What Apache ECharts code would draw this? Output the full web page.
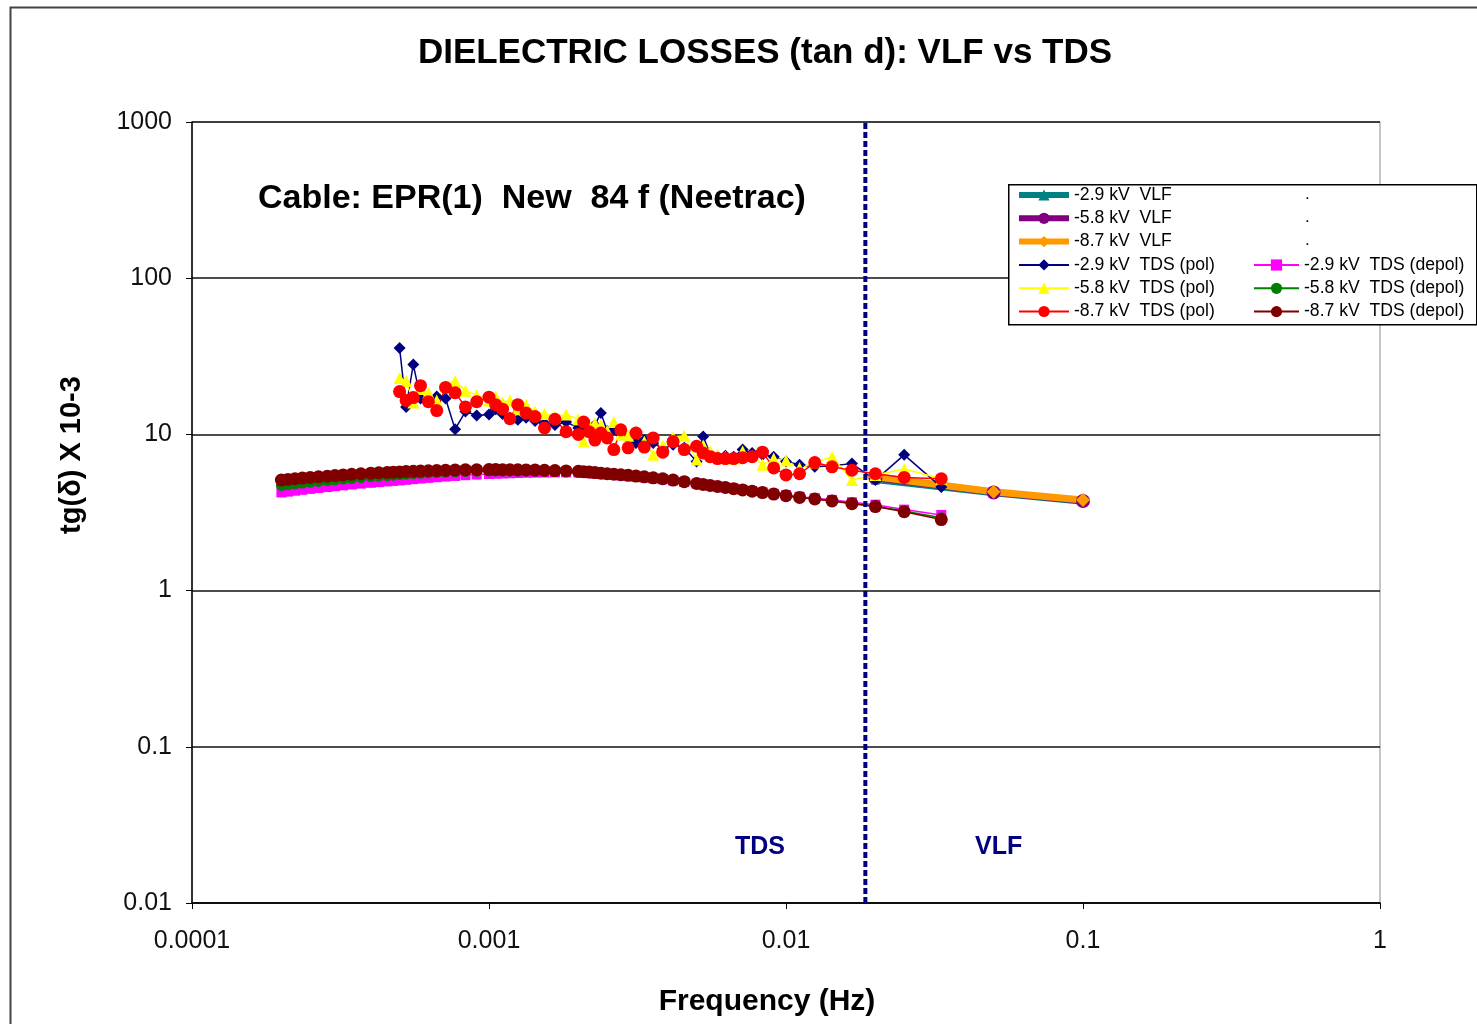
<!DOCTYPE html>
<html>
<head>
<meta charset="utf-8">
<title>Dielectric losses VLF vs TDS</title>
<script src="https://cdn.jsdelivr.net/npm/echarts@6/dist/echarts.min.js"></script>
<style>
  html, body { margin: 0; padding: 0; background: #fff; }
  #chart { width: 1477px; height: 1024px; }
</style>
</head>
<body>
<div id="chart"></div>
<script>
// frequencies (Hz)
var vlfFreq = [0.02, 0.05, 0.1];
var polFreq = [
  0.0005, 0.000526, 0.000556, 0.000588, 0.000625, 0.000667, 0.000714, 0.000769, 0.000833, 0.000909,
  0.001, 0.001053, 0.001111, 0.001176, 0.00125, 0.001333, 0.001429, 0.001538, 0.001667, 0.001818,
  0.002, 0.002083, 0.002174, 0.002273, 0.002381, 0.0025, 0.002632, 0.002778, 0.002941, 0.003125,
  0.003333, 0.003571, 0.003846, 0.004167, 0.004545, 0.005, 0.005263, 0.005556, 0.005882, 0.00625,
  0.006667, 0.007143, 0.007692, 0.008333, 0.009091, 0.01, 0.01111, 0.0125, 0.01429, 0.01667,
  0.02, 0.025, 0.03333
];
var depolFreq = [
  0.0002, 0.0002105, 0.0002222, 0.0002353, 0.00025, 0.0002667, 0.0002857, 0.000303, 0.0003226, 0.0003448,
  0.0003704, 0.0004, 0.0004255, 0.0004545, 0.0004762,
  0.0005, 0.000526, 0.000556, 0.000588, 0.000625, 0.000667, 0.000714, 0.000769, 0.000833, 0.000909,
  0.001, 0.001053, 0.001111, 0.001176, 0.00125, 0.001333, 0.001429, 0.001538, 0.001667, 0.001818,
  0.002, 0.002083, 0.002174, 0.002273, 0.002381, 0.0025, 0.002632, 0.002778, 0.002941, 0.003125,
  0.003333, 0.003571, 0.003846, 0.004167, 0.004545, 0.005, 0.005263, 0.005556, 0.005882, 0.00625,
  0.006667, 0.007143, 0.007692, 0.008333, 0.009091, 0.01, 0.01111, 0.0125, 0.01429, 0.01667,
  0.02, 0.025, 0.03333
];

// tg(delta) x 10-3
var vlf29 = [5.1, 4.2, 3.7];
var vlf58 = [5.25, 4.25, 3.75];
var vlf87 = [5.35, 4.3, 3.8];

var pol29 = [
  35.7, 15, 28, 17, 16.5, 17.5, 17, 10.8, 14, 13.2,
  13.4, 14.5, 13.5, 12.8, 12.4, 12.8, 12.2, 11.8, 11.5, 12,
  11, 11.2, 10.8, 11.5, 13.7, 10.5, 10.8, 10, 9.6, 8.8,
  9.2, 8.8, 8.1, 8.6, 8.2, 6.7, 9.7, 7.5, 7.2, 7.3,
  7.2, 8.0, 7.6, 7.4, 7.2, 6.7, 6.4, 6.2, 6.3, 6.5,
  5.1, 7.4, 4.6
];
var pol58 = [
  23, 22, 16, 19.5, 18.5, 16.5, 20.5, 22, 19, 17.9,
  16.5, 17.5, 16, 16.5, 14.5, 15.5, 14, 13.5, 13, 13.4,
  12.5, 9, 11.5, 11.8, 11.5, 10.5, 12, 10, 9.8, 10.5,
  9, 7.4, 8.5, 9.6, 9.8, 6.9, 8.5, 7.8, 7.4, 7.2,
  7.0, 7.8, 7.3, 6.4, 7.0, 6.8, 6.1, 6.6, 7.2, 5.1,
  5.5, 6.0, 5.2
];
var pol87 = [
  18.8, 16.5, 17.2, 20.5, 16.2, 14.2, 20, 18.5, 15, 16.2,
  17.3, 15.5, 14.5, 12.6, 15.5, 13.7, 13, 11, 12.5, 10.4,
  10, 12, 10.4, 9.2, 10.2, 9.5, 8, 10.7, 8.2, 10.2,
  8.3, 9.5, 7.7, 9.0, 8.0, 8.4, 7.6, 7.2, 7.0, 7.0,
  7.0, 7.1, 7.2, 7.7, 6.1, 5.5, 5.6, 6.6, 6.2, 5.9,
  5.6, 5.3, 5.2
];

var depol29 = [
  4.25, 4.3, 4.36, 4.42, 4.48, 4.54, 4.6, 4.66, 4.72, 4.78,
  4.84, 4.9, 4.95, 5.0, 5.04,
  5.08, 5.12, 5.17, 5.22, 5.27, 5.32, 5.37, 5.42, 5.48, 5.53,
  5.58, 5.6, 5.62, 5.64, 5.66, 5.68, 5.69, 5.7, 5.71, 5.71,
  5.7, 5.68, 5.65, 5.62, 5.58, 5.54, 5.5, 5.46, 5.41, 5.36,
  5.3, 5.23, 5.16, 5.07, 4.96, 4.84, 4.78, 4.71, 4.64, 4.57,
  4.5, 4.42, 4.34, 4.26, 4.17, 4.08, 3.99, 3.9, 3.81, 3.68,
  3.55, 3.3, 3.05
];
var depol58 = [
  4.7, 4.76, 4.82, 4.88, 4.94, 5.0, 5.06, 5.12, 5.18, 5.24,
  5.3, 5.36, 5.4, 5.44, 5.48,
  5.52, 5.56, 5.6, 5.63, 5.67, 5.7, 5.73, 5.76, 5.79, 5.81,
  5.83, 5.84, 5.84, 5.84, 5.84, 5.84, 5.83, 5.82, 5.8, 5.78,
  5.75, 5.72, 5.69, 5.66, 5.62, 5.58, 5.54, 5.5, 5.45, 5.39,
  5.33, 5.26, 5.19, 5.09, 4.97, 4.84, 4.77, 4.7, 4.63, 4.56,
  4.48, 4.4, 4.32, 4.23, 4.14, 4.04, 3.95, 3.86, 3.76, 3.62,
  3.47, 3.23, 2.93
];
var depol87 = [
  5.1, 5.15, 5.2, 5.25, 5.3, 5.35, 5.4, 5.45, 5.5, 5.55,
  5.6, 5.65, 5.68, 5.71, 5.73,
  5.75, 5.78, 5.8, 5.82, 5.85, 5.87, 5.89, 5.91, 5.93, 5.94,
  5.95, 5.95, 5.94, 5.94, 5.93, 5.92, 5.91, 5.89, 5.87, 5.84,
  5.8, 5.77, 5.74, 5.7, 5.65, 5.6, 5.56, 5.52, 5.47, 5.41,
  5.35, 5.27, 5.2, 5.1, 4.98, 4.85, 4.78, 4.71, 4.64, 4.57,
  4.49, 4.41, 4.33, 4.24, 4.15, 4.05, 3.95, 3.86, 3.75, 3.6,
  3.45, 3.2, 2.85
];

// where the TDS / VLF split is drawn (freq), spanning the whole y range
var splitFreq = 0.0185;
var splitSpan = [0.01, 1000];

function pairs(xs, ys) {
  var out = [];
  for (var i = 0; i < xs.length; i++) out.push([xs[i], ys[i]]);
  return out;
}

function fmt(v) {
  return String(+v.toPrecision(3));
}

var font = 'Liberation Sans, Arial, sans-serif';
var legendText = { fontSize: 17.6, color: '#000', fontFamily: font, lineHeight: 20 };
var chart = echarts.init(document.getElementById('chart'));

var option = {
  animation: false,
  backgroundColor: '#fff',
  textStyle: { fontFamily: font },
  title: {
    text: 'DIELECTRIC LOSSES (tan d): VLF vs TDS',
    left: 760, top: 31, textAlign: 'center',
    textStyle: { fontSize: 35, fontWeight: 'bold', color: '#000', fontFamily: font }
  },
  grid: {
    left: 192, top: 122, width: 1188, height: 781,
    show: true, borderColor: '#8a8a8a', borderWidth: 1
  },
  legend: [{
    // left column
    orient: 'vertical', left: 1016, top: 185,
    itemWidth: 50, itemHeight: 14, itemGap: 3.3, padding: 0,
    textStyle: legendText,
    z: 12,
    data: [
      { name: '-2.9 kV  VLF', lineStyle: { width: 6 } },
      { name: '-5.8 kV  VLF', lineStyle: { width: 6 } },
      { name: '-8.7 kV  VLF', lineStyle: { width: 6 } },
      '-2.9 kV  TDS (pol)', '-5.8 kV  TDS (pol)', '-8.7 kV  TDS (pol)'
    ]
  }, {
    // right column
    orient: 'vertical', left: 1253, top: 255,
    itemWidth: 45, itemHeight: 14, itemGap: 3.3, padding: 0,
    textStyle: legendText,
    z: 12,
    data: ['-2.9 kV  TDS (depol)', '-5.8 kV  TDS (depol)', '-8.7 kV  TDS (depol)']
  }],
  xAxis: {
    type: 'log', logBase: 10, min: 0.0001, max: 1,
    name: 'Frequency (Hz)', nameLocation: 'middle', nameGap: 84,
    nameTextStyle: { fontSize: 30, fontWeight: 'bold', color: '#000', fontFamily: font, padding: [0, 38, 0, 0] },
    axisLine: { lineStyle: { color: '#000', width: 1.5 } },
    axisTick: { show: true, length: 6, lineStyle: { color: '#000' } },
    minorTick: { show: false },
    axisLabel: { fontSize: 25, color: '#111', margin: 26, formatter: fmt },
    splitLine: { show: false }
  },
  yAxis: {
    type: 'log', logBase: 10, min: 0.01, max: 1000,
    axisLine: { show: true, lineStyle: { color: '#000', width: 1.5 } },
    axisTick: { show: true, length: 6, lineStyle: { color: '#000' } },
    axisLabel: { fontSize: 25, color: '#111', margin: 20, formatter: fmt },
    splitLine: { show: true, lineStyle: { color: '#111', width: 1.5 } }
  },
  graphic: [
    // outer frame of the chart area
    { type: 'rect', left: 8, top: 5, z: -1,
      shape: { width: 1490, height: 1040 },
      style: { fill: 'none', stroke: '#444', lineWidth: 2 } },
    // y axis title, sits a bit above the plot centre like the original
    { type: 'text', x: 72, y: 455, rotation: Math.PI / 2, z: 11,
      style: { text: 'tg(δ) X 10-3', fontSize: 29, fontWeight: 'bold', fill: '#000', fontFamily: font,
               align: 'center', verticalAlign: 'middle' } },
    // legend box
    { type: 'rect', left: 1008, top: 184, z: 10,
      shape: { width: 468, height: 140 },
      style: { fill: '#fff', stroke: '#000', lineWidth: 1.5 } },
    { type: 'text', left: 1305, top: 186, z: 11, style: { text: '.', fontSize: 17, fill: '#000', fontFamily: font } },
    { type: 'text', left: 1305, top: 209, z: 11, style: { text: '.', fontSize: 17, fill: '#000', fontFamily: font } },
    { type: 'text', left: 1305, top: 232, z: 11, style: { text: '.', fontSize: 17, fill: '#000', fontFamily: font } },
    // annotations
    { type: 'text', left: 258, top: 182, z: 11,
      style: { text: 'Cable: EPR(1)  New  84 f (Neetrac)', fontSize: 34, fontWeight: 'bold', fill: '#000', fontFamily: font } },
    { type: 'text', left: 735, top: 835, z: 11,
      style: { text: 'TDS', fontSize: 25, fontWeight: 'bold', fill: '#000080', fontFamily: font } },
    { type: 'text', left: 975, top: 835, z: 11,
      style: { text: 'VLF', fontSize: 25, fontWeight: 'bold', fill: '#000080', fontFamily: font } }
  ],
  series: [
    {
      name: '-2.9 kV  VLF', type: 'line', data: pairs(vlfFreq, vlf29),
      symbol: 'triangle', symbolSize: 9,
      itemStyle: { color: '#008080' }, lineStyle: { color: '#008080', width: 6 }
    },
    {
      name: '-5.8 kV  VLF', type: 'line', data: pairs(vlfFreq, vlf58),
      symbol: 'circle', symbolSize: 14,
      itemStyle: { color: '#800080' }, lineStyle: { color: '#800080', width: 6 }
    },
    {
      name: '-8.7 kV  VLF', type: 'line', data: pairs(vlfFreq, vlf87),
      symbol: 'diamond', symbolSize: 14,
      itemStyle: { color: '#FF9900' }, lineStyle: { color: '#FF9900', width: 7 }
    },
    {
      name: '-2.9 kV  TDS (pol)', type: 'line', data: pairs(polFreq, pol29),
      symbol: 'diamond', symbolSize: 12, showAllSymbol: true,
      itemStyle: { color: '#000080' }, lineStyle: { color: '#000080', width: 1.5 }
    },
    {
      name: '-5.8 kV  TDS (pol)', type: 'line', data: pairs(polFreq, pol58),
      symbol: 'triangle', symbolSize: 12, showAllSymbol: true,
      itemStyle: { color: '#FFFF00' }, lineStyle: { color: '#FFFF00', width: 1.5 }
    },
    {
      name: '-8.7 kV  TDS (pol)', type: 'line', data: pairs(polFreq, pol87),
      symbol: 'circle', symbolSize: 13, showAllSymbol: true,
      itemStyle: { color: '#FF0000' }, lineStyle: { color: '#FF0000', width: 1.5 }
    },
    {
      name: '-2.9 kV  TDS (depol)', type: 'line', data: pairs(depolFreq, depol29),
      symbol: 'rect', symbolSize: 10, showAllSymbol: true,
      itemStyle: { color: '#FF00FF' }, lineStyle: { color: '#FF00FF', width: 1.5 }
    },
    {
      name: '-5.8 kV  TDS (depol)', type: 'line', data: pairs(depolFreq, depol58),
      symbol: 'circle', symbolSize: 11, showAllSymbol: true,
      itemStyle: { color: '#008000' }, lineStyle: { color: '#008000', width: 1.5 }
    },
    {
      name: '-8.7 kV  TDS (depol)', type: 'line', data: pairs(depolFreq, depol87),
      symbol: 'circle', symbolSize: 13, showAllSymbol: true,
      itemStyle: { color: '#800000' }, lineStyle: { color: '#800000', width: 1.5 }
    },
    {
      // TDS | VLF divider
      name: 'divider', type: 'line', z: 5, silent: true,
      data: [[splitFreq, splitSpan[0]], [splitFreq, splitSpan[1]]],
      symbol: 'none',
      lineStyle: { color: '#000080', width: 4, type: [6, 3] }
    }
  ]
};

chart.setOption(option);
</script>
</body>
</html>
